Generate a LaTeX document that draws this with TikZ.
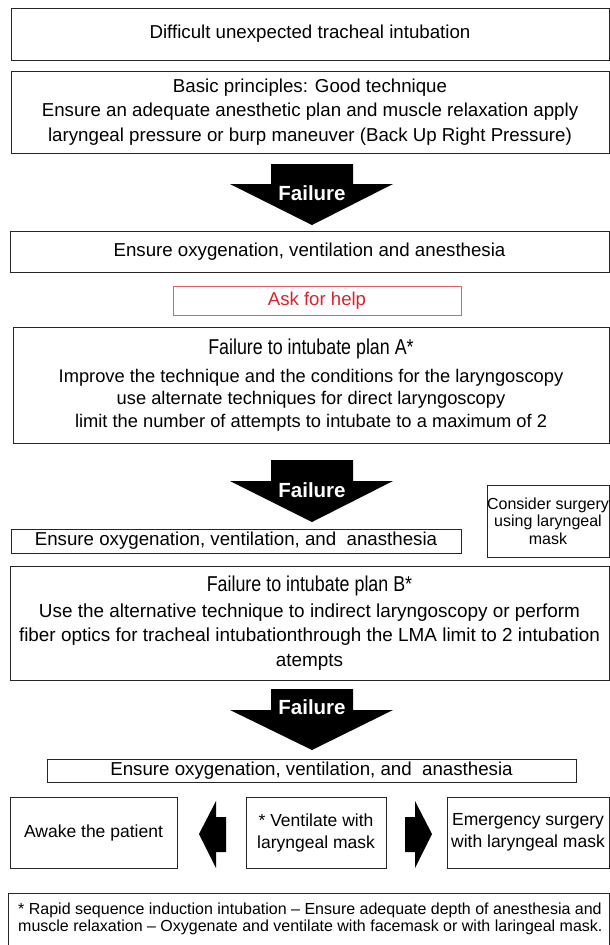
\documentclass[tikz,border=0pt]{standalone}
\usepackage{fontspec}
\setmainfont{Liberation Sans}
\newfontfamily\condfont[FakeStretch=0.83]{Liberation Sans}
\begin{document}
\begin{tikzpicture}[x=1pt,y=-1pt,
  box/.style={draw=black!85,line width=1pt,inner sep=0pt,align=center,font=\fontsize{18.7}{24.5}\selectfont},
  smallbox/.style={box,font=\fontsize{17.5}{22}\selectfont},
  redbox/.style={draw={rgb,255:red,225;green,95;blue,105},line width=1pt,inner sep=0pt,text={rgb,255:red,215;green,35;blue,45},font=\fontsize{18.6}{22}\selectfont},
  plantitle/.style={font=\condfont\fontsize{21.5}{26}\selectfont},
  bigarrow/.style={fill=black},
  failtext/.style={text=white,font=\bfseries\fontsize{20.5}{22}\selectfont,inner sep=0pt}]
\useasboundingbox (0,0) rectangle (610,945);
% boxes
\node[box,minimum width=598,minimum height=52] (b1) at (310,34) {Difficult unexpected tracheal intubation};
\node[box,minimum width=598,minimum height=82] (b2) at (310,112) {Basic principles: Good technique\\Ensure an adequate anesthetic plan and muscle relaxation apply\\laryngeal pressure or burp maneuver (Back Up Right Pressure)};
\node[box,minimum width=599,minimum height=41] (b3) at (309.5,251.5) {Ensure oxygenation, ventilation and anesthesia};
\node[redbox,minimum width=288,minimum height=29] (ask) at (317,300.5) {Ask for help};
\node[box,minimum width=596,minimum height=116,font=\fontsize{18.3}{22.5}\selectfont] (pa) at (311,385) {{\condfont\fontsize{21.5}{26}\selectfont Failure to intubate plan A*}\\[5pt]Improve the technique and the conditions for the laryngoscopy\\use alternate techniques for direct laryngoscopy\\limit the number of attempts to intubate to a maximum of 2};
\node[box,minimum width=450,minimum height=24] (e2) at (236,541) {Ensure oxygenation, ventilation, and\ \ anasthesia};
\node[box,minimum width=122,minimum height=72,font=\fontsize{16}{17.5}\selectfont] (cs) at (548,521) {Consider surgery\\using laryngeal\\mask};
\node[box,minimum width=599,minimum height=114,font=\fontsize{18.9}{24.5}\selectfont] (pb) at (309.5,623) {{\condfont\fontsize{21.5}{26}\selectfont Failure to intubate plan B*}\\[1pt]Use the alternative technique to indirect laryngoscopy or perform\\fiber optics for tracheal intubationthrough the LMA limit to 2 intubation\\atempts};
\node[box,minimum width=529,minimum height=23] (e3) at (311.5,770.5) {Ensure oxygenation, ventilation, and\ \ anasthesia};
\node[smallbox,minimum width=167,minimum height=71] (aw) at (93.5,832.5) {Awake the patient};
\node[smallbox,minimum width=140,minimum height=71] (vm) at (316,832.5) {* Ventilate with\\laryngeal mask};
\node[smallbox,minimum width=162,minimum height=71] (em) at (528,832.5) {Emergency surgery\\with laryngeal mask};
\draw[black!85,line width=1pt] (609,947) -- (609,893) -- (8,893) -- (8,947);
\node[anchor=west,align=left,inner sep=0pt,font=\fontsize{16}{16.8}\selectfont] (fn) at (18,919) {* Rapid sequence induction intubation -- Ensure adequate depth of anesthesia and\\muscle relaxation -- Oxygenate and ventilate with facemask or with laringeal mask.};
% down arrows
\foreach \t/\h/\p in {164/184/225,460/481/522,689/710/750}{
  \fill[bigarrow] (271,\t) -- (353,\t) -- (353,\h) -- (393,\h) -- (312,\p) -- (230,\h) -- (271,\h) -- cycle;
}
\node[failtext] (f1) at (312,193) {Failure};
\node[failtext] (f2) at (312,490) {Failure};
\node[failtext] (f3) at (312,707) {Failure};
% side arrows
\fill[bigarrow] (226,817) -- (216,817) -- (216,801) -- (199,834) -- (216,868) -- (216,852) -- (226,852) -- cycle;
\fill[bigarrow] (405,817) -- (415,817) -- (415,801) -- (432,834) -- (415,868) -- (415,852) -- (405,852) -- cycle;
\end{tikzpicture}
\end{document}
